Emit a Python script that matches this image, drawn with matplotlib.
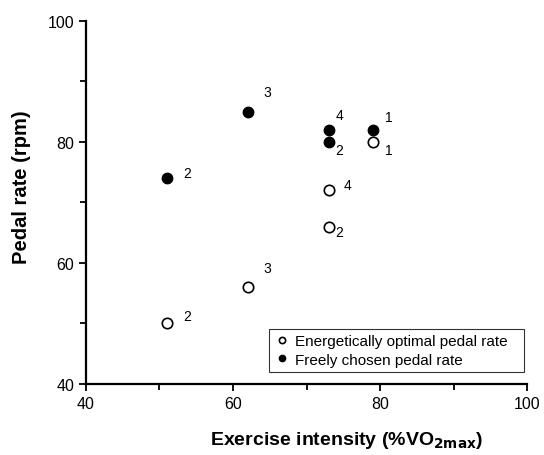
import matplotlib
matplotlib.use("Agg")
import matplotlib.pyplot as plt
from matplotlib.ticker import MultipleLocator

plt.rcParams['font.family'] = ['Liberation Sans', 'DejaVu Sans']

# Data
intensity = [51, 62, 73, 73, 79]
freely_chosen = [74, 85, 82, 80, 82]
free_labels = ["2", "3", "4", "2", "1"]
optimal_x = [51, 62, 73, 73, 79]
optimal = [50, 56, 72, 66, 80]
opt_labels = ["2", "3", "4", "2", "1"]

# label offsets (points)
free_offsets = [(11.5, 3.5), (11.5, 14), (5, 11), (5, -6), (9, 9.5)]
opt_offsets = [(11.5, 5), (11.5, 14), (11, 4), (5, -4), (9, -5.5)]

fig = plt.figure(figsize=(5.44, 4.56), dpi=100)
ax = fig.add_axes([0.158, 0.156, 0.811, 0.796])

ax.plot(optimal_x, optimal, 'o', mfc='white', mec='black', mew=1.2, ms=7.5,
        label='Energetically optimal pedal rate', zorder=3)
ax.plot(intensity, freely_chosen, 'o', mfc='black', mec='black', mew=1.0, ms=7.5,
        label='Freely chosen pedal rate', zorder=3)

for x, y, t, off in zip(intensity, freely_chosen, free_labels, free_offsets):
    ax.annotate(t, (x, y), xytext=off, textcoords='offset points', fontsize=10,
                ha='left', va='center')
for x, y, t, off in zip(optimal_x, optimal, opt_labels, opt_offsets):
    ax.annotate(t, (x, y), xytext=off, textcoords='offset points', fontsize=10,
                ha='left', va='center')

ax.set_xlim(40, 100)
ax.set_ylim(40, 100)
ax.xaxis.set_major_locator(MultipleLocator(20))
ax.xaxis.set_minor_locator(MultipleLocator(10))
ax.yaxis.set_major_locator(MultipleLocator(20))
ax.yaxis.set_minor_locator(MultipleLocator(10))
ax.tick_params(which='both', direction='out', width=1.3, labelsize=11.5)
ax.tick_params(which='major', length=5)
ax.tick_params(which='minor', length=4)
for s in ['top', 'right']:
    ax.spines[s].set_visible(False)
for s in ['left', 'bottom']:
    ax.spines[s].set_linewidth(1.6)
ax.spines['left'].set_bounds(40, 100)

ax.set_xlabel('Exercise intensity (%VO$_{\\mathbf{2max}}$)', fontsize=14,
              fontweight='bold')
ax.xaxis.set_label_coords(0.59, -0.125)
ax.set_ylabel('Pedal rate (rpm)', fontsize=14.5, fontweight='bold')
ax.yaxis.set_label_coords(-0.125, 0.545)

leg = ax.legend(loc='lower left', bbox_to_anchor=(0.415, 0.033, 0.578, 0.135),
                mode='expand', fontsize=11, frameon=True, fancybox=False,
                edgecolor='black', markerscale=0.6, handlelength=1.0,
                handletextpad=0.35, borderpad=0.35, labelspacing=0.3,
                borderaxespad=0)
leg.get_frame().set_linewidth(0.8)

fig.savefig('out.png', dpi=100)
